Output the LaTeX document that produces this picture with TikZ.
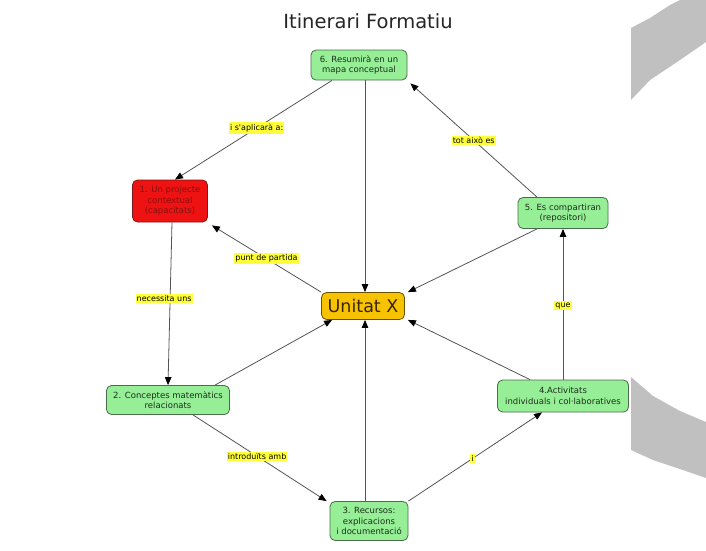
\documentclass[tikz,border=0pt]{standalone}
\usepackage{fontspec}
\setmainfont{DejaVu Sans}
\usetikzlibrary{arrows.meta}
\definecolor{gfill}{HTML}{96EE96}
\definecolor{gborder}{HTML}{4A6E4A}
\definecolor{gtext}{HTML}{1C2E1C}
\definecolor{rfill}{HTML}{EE1212}
\definecolor{rborder}{HTML}{7A1A1A}
\definecolor{rtext}{HTML}{8A1010}
\definecolor{ofill}{HTML}{F7C300}
\definecolor{oborder}{HTML}{6B5000}
\definecolor{otext}{HTML}{3A2500}
\definecolor{lyellow}{HTML}{FFFF3A}
\definecolor{lgray}{HTML}{555555}
\definecolor{deco}{HTML}{C0C0C0}
\tikzset{
  box/.style={draw=gborder, fill=gfill, rounded corners=5pt, line width=0.8pt,
    align=center, inner sep=1pt, font=\fontsize{8.5}{10.5}\selectfont, text=gtext},
  lab/.style={fill=lyellow, inner xsep=1pt, inner ysep=1.5pt, font=\fontsize{8}{9}\selectfont, text=black},
  conn/.style={draw=lgray, line width=0.8pt},
  arr/.style={conn, -{Triangle[length=8pt,width=6.5pt,color=black]}}
}
\begin{document}
\begin{tikzpicture}[x=1pt,y=-1pt]
\useasboundingbox[fill=white] (0,0) rectangle (706,550);
% decorations
\fill[deco] (631,28) -- (650,18) -- (670,5) -- (680,0) -- (706,0) -- (706,42) -- (680,60) -- (650,80) -- (631,100) -- cycle;
\fill[deco] (631,377) -- (653,396) -- (680,411) -- (706,422) -- (706,478) -- (680,469) -- (653,460) -- (631,450) -- cycle;
% title
\node[font=\fontsize{19.5}{22}\selectfont, text=black!85] (title) at (368,21) {Itinerari Formatiu};
% nodes
\node[box, minimum width=96pt, minimum height=30pt] (n6) at (359,65) {6. Resumirà en un\\mapa conceptual};
\node[box, fill=rfill, draw=rborder, text=rtext, minimum width=75pt, minimum height=42pt] (n1) at (170,201) {1. Un projecte\\contextual\\(capacitats)};
\node[box, minimum width=90pt, minimum height=31pt] (n5) at (563,213) {5. Es compartiran\\(repositori)};
\node[box, fill=ofill, draw=oborder, text=otext, font=\fontsize{17.5}{19}\selectfont, minimum width=83pt, minimum height=27pt] (nx) at (363,306) {Unitat X};
\node[box, minimum width=123pt, minimum height=29pt] (n2) at (168,400) {2. Conceptes matemàtics\\relacionats};
\node[box, minimum width=131pt, minimum height=32pt] (n4) at (563,396) {4.Activitats\\individuals i col·laboratives};
\node[box, minimum width=78pt, minimum height=39pt] (n3) at (369,521) {3. Recursos:\\explicacions\\i documentació};
% connectors to Unitat X
\draw[arr] ([xshift=6pt]n6.south) -- ([xshift=2pt]nx.north);
\draw[arr] ([xshift=-26pt]n5.south) -- ([xshift=3pt]nx.north east);
\draw[arr] ([xshift=-33pt]n4.north) -- ([xshift=3pt]nx.south east);
\draw[arr] ([xshift=-4pt]n3.north) -- ([xshift=2pt]nx.south);
\draw[arr] ([xshift=47pt]n2.north) -- ([xshift=11pt]nx.south west);
% labelled connectors
\draw[arr] ([xshift=-27pt]n6.south) -- node[lab, pos=0.48] (l1) {i s\textquotesingle aplicarà a:} ([xshift=5pt]n1.north);
\draw[arr] ([xshift=-26pt]n5.north) -- node[lab, pos=0.5] (l2) {tot això es} ([xshift=3pt,yshift=-3pt]n6.south east);
\draw[arr] (nx.north west) -- node[lab, pos=0.5] (l3) {punt de partida} ([xshift=4pt,yshift=-3pt]n1.south east);
\draw[arr] ([xshift=2pt]n1.south) -- node[lab, pos=0.47, xshift=-6pt] (l4) {necessita uns} (n2.north);
\draw[arr] ([xshift=25pt]n2.south) -- node[lab, pos=0.48] (l5) {introduïts amb} ([xshift=-3pt]n3.north west);
\draw[arr] (n3.north east) -- node[lab, pos=0.48] (l6) {i} ([xshift=-21pt]n4.south);
\draw[arr] (n4.north) -- node[lab, pos=0.49] (l7) {que} (n5.south);
\end{tikzpicture}
\end{document}
